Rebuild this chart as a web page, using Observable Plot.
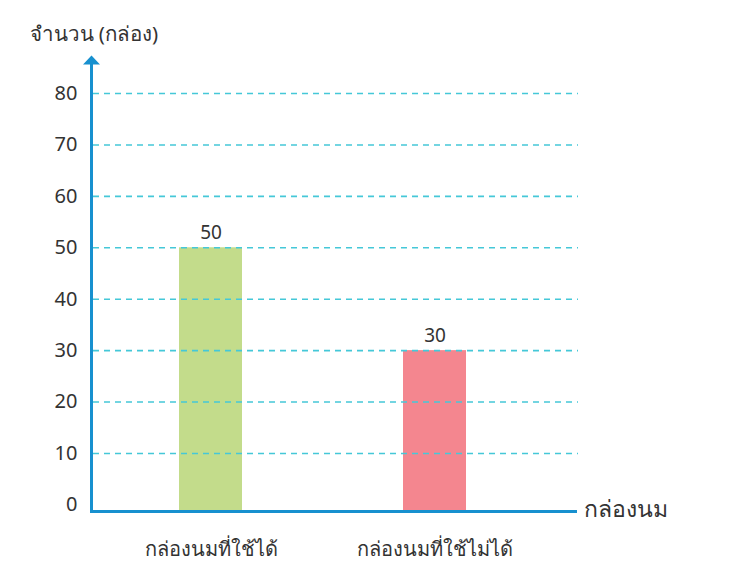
<!DOCTYPE html>
<html><head><meta charset="utf-8">
<script src="https://cdn.jsdelivr.net/npm/d3@7"></script>
<script src="https://cdn.jsdelivr.net/npm/@observablehq/plot@0.6"></script>
<style>body{margin:0;background:#fff;} svg{font-family:"Noto Sans","DejaVu Sans",sans-serif;}</style>
</head><body><div id="chart"></div>
<script>
const categories = ["กล่องนมที่ใช้ได้", "กล่องนมที่ใช้ไม่ได้"];
const values = [50, 30];
const colors = ["#c3dc8b", "#f4868f"];
const yTicks = [0, 10, 20, 30, 40, 50, 60, 70, 80];
const gridTicks = [10, 20, 30, 40, 50, 60, 70, 80];
const yTitle = "จำนวน (กล่อง)";
const xTitle = "กล่องนม";

const data = categories.map((c, i) => ({category: c, value: values[i], color: colors[i]}));
const axisColor = "#1790cf";
const textColor = "#333";

const triangle = {
  draw(ctx, l, r) {
    ctx.moveTo(-8.5, 0);
    ctx.lineTo(8.5, 0);
    ctx.lineTo(0, -9);
    ctx.closePath();
  }
};

const chart = Plot.plot({
  width: 743,
  height: 580,
  marginLeft: 91,
  marginRight: 168,
  marginTop: 64,
  marginBottom: 69,
  style: {fontSize: "20px", color: textColor, background: "#fff"},
  x: {domain: categories, range: [91, 575], paddingInner: 0.72, paddingOuter: 0.4356, align: 0.446, axis: null, label: null},
  y: {domain: [0, 80], range: [504.4, 93], axis: null, label: null},
  marks: [
    Plot.barY(data, {x: "category", y: "value", fill: "color", insetBottom: -6}),
    Plot.ruleY(gridTicks, {stroke: "#45c8d8", strokeWidth: 1.6, strokeDasharray: "6,5", insetLeft: 2, insetRight: -3}),
    Plot.frame({anchor: "left", stroke: axisColor, strokeWidth: 3}),
    Plot.frame({anchor: "bottom", stroke: axisColor, strokeWidth: 3}),
    Plot.vector([0], {frameAnchor: "top-left", length: 9, anchor: "start", shape: triangle, fill: axisColor, stroke: axisColor, strokeWidth: 0}),
    Plot.axisY(yTicks, {tickSize: 0, tickPadding: 14, fontSize: 20, fill: textColor, label: null}),
    Plot.axisX(categories, {tickSize: 0, tickPadding: 30, fontSize: 20, fill: textColor, label: null}),
    Plot.text(data, {x: "category", y: "value", text: d => String(d.value), dy: -15, fontSize: 19, fill: textColor}),
    Plot.text([xTitle], {frameAnchor: "bottom-right", dx: 8, dy: 5, textAnchor: "start", fontSize: 23, fill: textColor}),
    Plot.text([yTitle], {frameAnchor: "top-left", dx: -62, dy: -38, textAnchor: "start", fontSize: 20.5, fill: textColor})
  ]
});
document.getElementById("chart").appendChild(chart);
</script>
</body></html>
